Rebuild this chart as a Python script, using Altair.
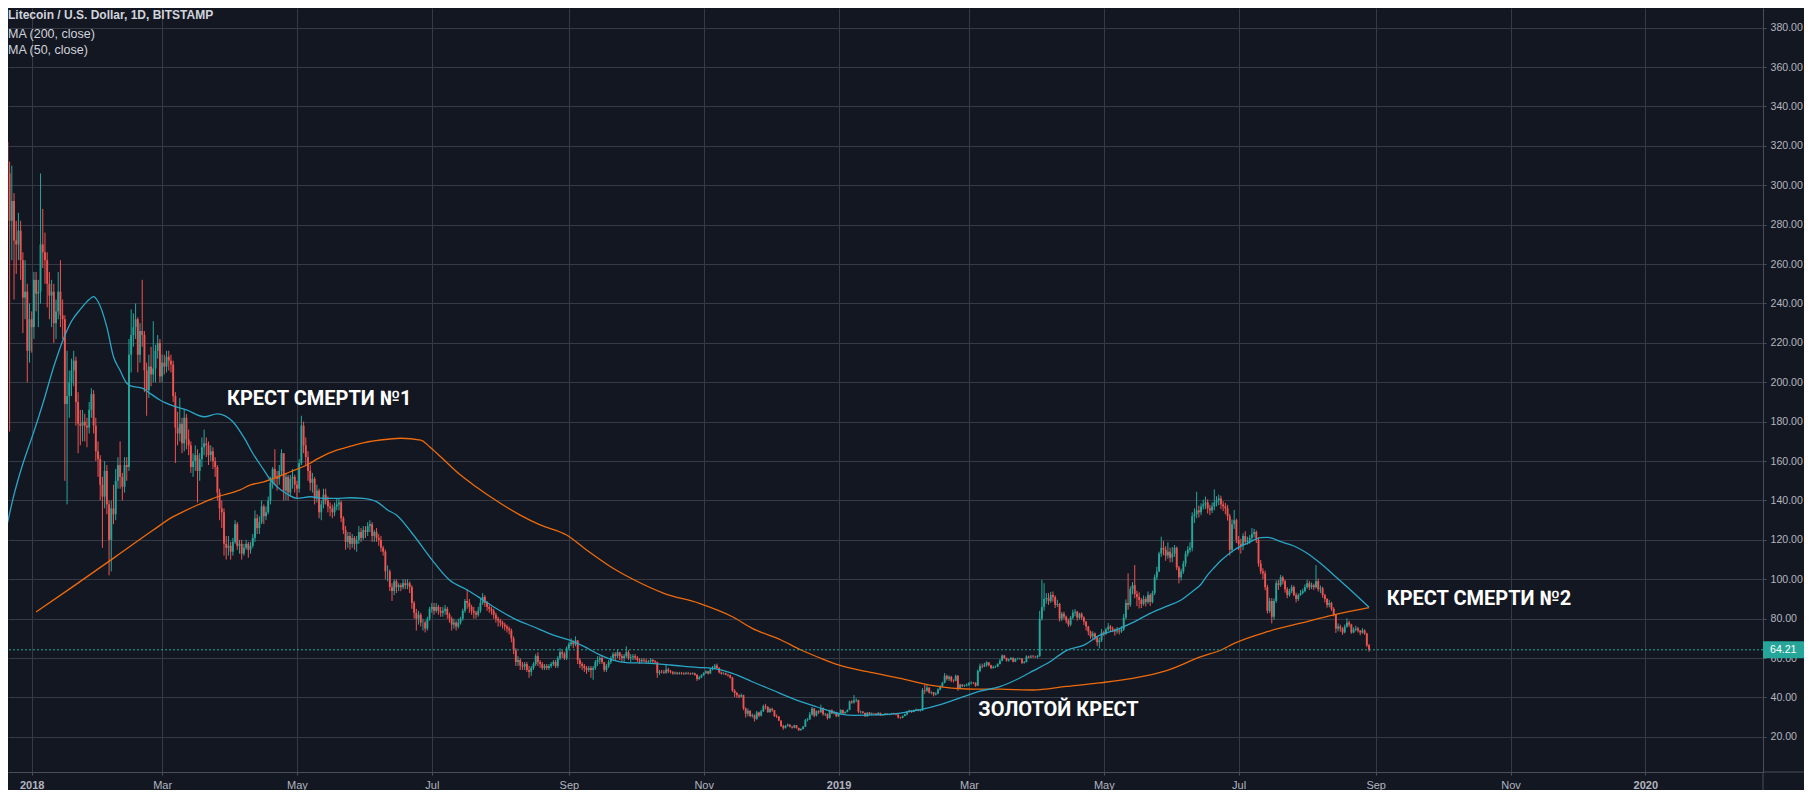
import altair as alt
import pandas as pd

# ---------------- style ----------------
UP = "#26a69a"
DOWN = "#ef5350"
MA50_COLOR = "#2aa6c6"
MA200_COLOR = "#ee6a0c"
BG = "#131722"
GRID = "#363a45"
AXIS_LINE = "#4a4e5a"
LABEL = "#b2b5be"
TEXT = "#d1d4dc"
UI_FONT = "Liberation Sans, Arial, sans-serif"
ANN_FONT = "Roboto, Liberation Sans, sans-serif"
W, H = 1755, 764

# ---------------- daily candles (LTC/USD, Bitstamp, 1D) ----------------
# each day opens at the previous day's close
first_open = 318

dec17_close = [355, 345, 322, 306, 282, 292, 272, 270, 277, 262, 243, 246, 216, 232]
dec17_high = [366, 375, 352, 330, 312, 310, 296, 282, 286, 282, 266, 262, 250, 240]
dec17_low = [310, 330, 300, 290, 175, 262, 242, 255, 262, 252, 225, 232, 200, 210]

jan18_close = [228, 252, 245, 246, 270, 266, 262, 250, 244, 246, 230, 236, 246, 234, 232, 189, 193, 200, 206, 211, 190, 179, 178, 180, 178, 177, 186, 194, 178, 165, 161]
jan18_high = [236, 256, 256, 252, 306, 288, 276, 266, 256, 252, 250, 242, 256, 262, 242, 234, 216, 206, 212, 216, 213, 195, 186, 186, 184, 182, 190, 197, 196, 182, 170]
jan18_low = [215, 222, 236, 228, 240, 258, 250, 238, 232, 228, 220, 222, 232, 228, 222, 150, 138, 182, 193, 198, 178, 164, 168, 170, 170, 167, 174, 182, 174, 160, 152]

feb18_close = [148, 142, 155, 138, 120, 136, 133, 150, 158, 152, 147, 158, 157, 214, 224, 228, 232, 214, 226, 224, 206, 196, 208, 204, 207, 216, 220, 203]
feb18_high = [163, 152, 160, 158, 140, 140, 148, 156, 162, 170, 154, 162, 162, 222, 237, 235, 240, 233, 230, 252, 226, 210, 214, 218, 231, 219, 224, 222]
feb18_low = [140, 116, 136, 133, 102, 104, 128, 130, 146, 146, 140, 144, 150, 155, 205, 218, 222, 205, 210, 218, 195, 183, 192, 198, 200, 200, 212, 200]

mar18_close = [210, 208, 213, 211, 209, 193, 177, 174, 179, 169, 182, 171, 168, 157, 160, 163, 155, 161, 167, 169, 168, 163, 165, 160, 157, 144, 136, 134, 118, 116, 117]
mar18_high = [214, 214, 216, 216, 214, 211, 195, 185, 192, 182, 186, 184, 176, 170, 164, 168, 166, 164, 172, 176, 172, 170, 168, 167, 162, 158, 146, 140, 136, 122, 122]
mar18_low = [200, 204, 205, 206, 205, 190, 159, 168, 170, 164, 165, 166, 163, 154, 152, 155, 139, 150, 157, 163, 162, 158, 160, 156, 152, 140, 130, 126, 112, 110, 112]

apr18_close = [114, 119, 128, 117, 118, 113, 116, 118, 115, 117, 121, 131, 126, 129, 137, 132, 134, 140, 149, 156, 152, 151, 155, 164, 145, 152, 144, 151, 152, 148]
apr18_high = [119, 121, 130, 129, 120, 120, 118, 120, 119, 119, 123, 135, 133, 132, 140, 138, 137, 142, 152, 157, 166, 155, 158, 166, 164, 154, 153, 153, 156, 153]
apr18_low = [110, 112, 118, 115, 113, 110, 112, 115, 111, 113, 116, 119, 123, 123, 128, 128, 130, 133, 138, 146, 148, 145, 148, 153, 140, 140, 140, 142, 146, 144]

may18_close = [146, 159, 178, 168, 162, 155, 149, 151, 141, 145, 134, 138, 143, 140, 137, 136, 134, 137, 138, 139, 131, 125, 119, 122, 118, 121, 118, 120, 124, 121, 125]
may18_high = [150, 161, 183, 180, 172, 165, 158, 154, 152, 148, 146, 140, 146, 146, 142, 139, 138, 139, 141, 141, 140, 132, 127, 124, 124, 123, 122, 122, 127, 126, 127]
may18_low = [141, 144, 158, 164, 158, 150, 145, 144, 138, 139, 131, 130, 136, 138, 134, 132, 131, 132, 135, 135, 129, 123, 115, 116, 115, 116, 115, 114, 118, 119, 120]

jun18_close = [124, 127, 128, 122, 124, 121, 120, 116, 114, 104, 104, 96, 94, 99, 96, 97, 96, 98, 97, 98, 96, 88, 83, 80, 82, 78, 78, 75, 80, 85]
jun18_high = [127, 129, 130, 129, 125, 126, 123, 122, 117, 115, 107, 105, 98, 100, 100, 98, 98, 100, 100, 100, 99, 97, 89, 85, 84, 83, 80, 79, 81, 86]
jun18_low = [121, 122, 124, 119, 119, 119, 117, 114, 112, 100, 99, 94, 89, 92, 93, 94, 94, 95, 95, 95, 93, 85, 80, 74, 77, 76, 74, 73, 74, 79]

jul18_close = [86, 84, 86, 84, 83, 84, 85, 82, 80, 77, 78, 76, 78, 80, 84, 89, 88, 86, 84, 83, 82, 84, 88, 91, 88, 86, 85, 84, 82, 80, 79]
jul18_high = [88, 88, 88, 87, 86, 86, 87, 86, 83, 81, 80, 79, 80, 81, 85, 90, 95, 90, 87, 86, 84, 86, 90, 93, 92, 89, 87, 86, 85, 83, 81]
jul18_low = [83, 82, 83, 82, 81, 81, 82, 80, 78, 74, 75, 74, 75, 77, 79, 83, 85, 83, 82, 80, 80, 81, 83, 87, 86, 84, 83, 82, 80, 78, 76]

aug18_close = [78, 77, 76, 75, 74, 70, 64, 58, 59, 56.3, 55.7, 57, 54, 53, 55, 57, 61, 58, 57, 55, 56, 55, 56, 57, 58, 56, 60, 63, 62, 60, 65]
aug18_high = [80, 79, 78, 77, 76, 75, 71, 65, 61, 60, 58, 58, 58, 56, 56, 58, 62, 63, 59, 58, 57, 57, 57, 58, 59, 59, 61, 65, 64, 63, 66]
aug18_low = [76, 75, 74, 73, 72, 68, 62, 56, 56, 54, 54, 54, 53, 50, 51, 54, 56, 56, 55, 54, 54, 54, 54, 55, 56, 55, 55, 59, 60, 59, 59]

sep18_close = [67, 68, 67, 69, 59, 57, 56, 55, 54, 55, 54, 55, 58, 59, 60, 58, 54, 56, 58, 60, 62, 61, 63, 61, 60, 61, 63, 60, 60.4, 61]
sep18_high = [68, 70, 69, 71, 69, 60, 58, 57, 56, 56, 56, 56, 59, 61, 61, 61, 58, 57, 59, 61, 63, 63, 64, 63, 62, 62, 66, 64, 62, 62]
sep18_low = [64, 66, 65, 66, 57, 55, 54, 53, 52, 53, 50, 49, 54, 56, 57, 57, 53, 53, 55, 57, 59, 59, 60, 59, 58, 58, 60, 59, 58, 59]

oct18_close = [60.2, 59.1, 58.4, 59.0, 58.6, 58.1, 58.3, 59.1, 58.4, 57.9, 52.4, 53.1, 53.0, 52.6, 54.2, 53.3, 52.9, 52.2, 52.6, 52.1, 52.5, 52.3, 52.0, 52.4, 52.2, 51.9, 52.3, 51.5, 49.4, 50.2, 51.3]
oct18_high = [62.0, 61.0, 60.0, 60.0, 60.0, 59.6, 59.0, 60.0, 59.6, 59.0, 58.2, 54.0, 54.0, 54.0, 57.0, 55.0, 54.0, 53.4, 53.2, 53.0, 53.0, 53.0, 52.8, 53.0, 53.0, 52.6, 52.8, 52.6, 51.8, 51.0, 51.8]
oct18_low = [59.0, 58.0, 57.0, 57.6, 58.0, 57.2, 57.4, 57.6, 57.6, 57.2, 50.0, 51.4, 52.2, 52.0, 52.0, 52.4, 52.2, 51.6, 51.6, 51.6, 51.6, 51.6, 51.4, 51.6, 51.6, 51.4, 51.6, 51.0, 48.4, 49.0, 49.8]

nov18_close = [52.4, 53.3, 52.2, 54.3, 55.1, 56.2, 55.0, 52.8, 52.1, 52.3, 51.6, 51.2, 50.1, 43.5, 42.3, 41.1, 40.4, 41.2, 34.5, 31.8, 33.2, 30.6, 31.0, 29.2, 32.4, 30.8, 33.0, 35.6, 35.2, 32.6]
nov18_high = [52.8, 53.8, 53.5, 54.8, 56.0, 57.0, 57.2, 55.4, 53.2, 52.8, 52.6, 52.0, 51.6, 50.4, 44.2, 42.8, 41.6, 42.0, 41.4, 35.0, 34.4, 33.6, 31.8, 31.4, 33.2, 32.8, 33.8, 36.4, 36.8, 35.6]
nov18_low = [51.0, 52.0, 51.6, 51.9, 53.8, 54.6, 54.6, 52.2, 51.6, 51.6, 51.2, 50.6, 49.6, 42.8, 40.2, 39.8, 39.6, 40.0, 33.6, 29.8, 30.4, 30.0, 29.8, 27.8, 28.6, 30.0, 30.4, 32.6, 34.0, 32.2]

dec18_close = [34.2, 33.5, 30.5, 30.3, 28.3, 25.5, 24.6, 25.6, 26.2, 25.2, 24.7, 25.9, 24.6, 23.4, 24.0, 25.2, 28.6, 28.9, 31.4, 34.4, 30.8, 33.0, 32.5, 34.5, 31.5, 31.7, 29.5, 33.5, 31.9, 32.6, 30.5]
dec18_high = [34.8, 34.8, 33.6, 31.4, 30.6, 28.4, 26.2, 26.0, 26.8, 26.4, 25.4, 26.2, 26.0, 24.6, 24.4, 25.6, 29.2, 29.6, 32.6, 35.2, 34.6, 33.4, 33.6, 36.4, 35.0, 32.2, 31.8, 33.8, 34.0, 33.2, 32.8]
dec18_low = [32.2, 32.8, 30.2, 29.6, 28.0, 25.0, 23.6, 24.2, 25.2, 24.8, 24.2, 24.4, 24.2, 23.0, 23.2, 23.8, 25.0, 27.8, 28.6, 30.8, 30.0, 30.4, 31.6, 32.2, 30.8, 30.6, 28.8, 29.4, 31.6, 31.4, 30.0]

jan19_close = [31.9, 33.7, 32.0, 32.7, 33.7, 38.0, 37.5, 38.5, 38.8, 32.8, 32.9, 32.2, 30.5, 32.3, 31.4, 32.0, 31.9, 31.1, 32.2, 30.9, 31.3, 31.8, 31.3, 31.6, 31.9, 31.6, 31.4, 29.9, 29.7, 30.6, 31.5]
jan19_high = [32.2, 34.0, 33.8, 32.9, 34.0, 38.4, 38.6, 41.2, 39.6, 38.8, 33.4, 33.0, 32.3, 32.5, 32.6, 32.4, 32.2, 32.0, 32.6, 32.3, 31.6, 32.1, 32.0, 31.9, 32.2, 32.3, 31.8, 31.4, 30.2, 30.9, 31.8]
jan19_low = [30.2, 31.6, 31.6, 31.8, 32.4, 33.5, 36.8, 36.9, 37.6, 32.0, 31.8, 31.9, 30.2, 30.2, 31.1, 31.2, 31.4, 30.9, 30.9, 30.6, 30.8, 30.9, 31.0, 31.0, 31.4, 31.3, 31.0, 29.3, 29.2, 29.5, 30.4]

feb19_close = [32.8, 33.4, 32.6, 33.5, 33.9, 33.2, 33.4, 43.8, 43.5, 45.0, 42.5, 42.7, 41.5, 42.0, 44.0, 45.5, 47.5, 51.0, 49.5, 50.5, 48.6, 48.5, 51.0, 44.5, 46.5, 45.8, 46.1, 46.5]
feb19_high = [33.2, 33.8, 33.6, 33.8, 34.4, 34.0, 33.9, 44.8, 46.5, 46.2, 45.2, 43.2, 42.8, 42.6, 44.6, 46.2, 48.0, 52.4, 51.6, 51.2, 51.0, 49.2, 51.6, 51.4, 47.0, 46.8, 46.6, 47.2]
feb19_low = [30.9, 32.4, 32.2, 32.5, 33.1, 33.0, 32.8, 33.2, 41.8, 42.8, 42.0, 41.6, 40.6, 41.0, 41.6, 43.6, 45.2, 47.2, 48.6, 48.4, 47.8, 47.6, 48.2, 43.4, 44.2, 45.2, 45.4, 45.6]

mar19_close = [47.2, 47.5, 47.4, 46.0, 53.5, 56.0, 55.8, 56.5, 57.8, 56.4, 55.0, 55.5, 55.7, 57.0, 58.6, 61.3, 60.1, 58.7, 59.3, 60.0, 58.2, 59.5, 59.6, 59.8, 57.6, 58.0, 60.8, 60.3, 60.8, 60.6, 60.5]
mar19_high = [47.8, 48.2, 47.9, 47.8, 54.2, 57.2, 57.2, 57.6, 58.4, 58.0, 56.6, 56.2, 56.2, 57.4, 59.6, 61.8, 61.6, 60.2, 59.8, 60.6, 60.4, 60.0, 60.2, 60.2, 59.9, 58.6, 61.4, 61.2, 61.6, 61.6, 61.2]
mar19_low = [45.8, 46.6, 46.8, 45.4, 45.8, 52.8, 54.8, 55.4, 55.6, 55.8, 54.4, 54.6, 55.0, 55.4, 56.8, 58.4, 59.6, 58.2, 58.2, 59.0, 57.8, 58.0, 59.2, 59.2, 57.0, 57.2, 57.8, 59.8, 60.0, 60.2, 60.0]

apr19_close = [61.0, 80.0, 86.0, 90.0, 90.5, 89.0, 92.0, 91.0, 87.0, 87.5, 80.0, 82.5, 81.0, 79.0, 77.0, 80.5, 83.0, 83.5, 80.5, 82.5, 80.6, 78.5, 76.0, 73.5, 71.0, 72.5, 70.5, 68.0, 69.0, 73.0]
apr19_high = [61.6, 84.0, 99.6, 98.0, 93.0, 93.0, 93.6, 93.8, 91.8, 89.6, 88.0, 83.4, 83.6, 81.6, 80.0, 81.4, 84.6, 84.8, 84.0, 83.0, 83.2, 81.2, 78.8, 76.4, 74.0, 73.6, 73.0, 71.0, 70.4, 74.8]
apr19_low = [59.8, 60.6, 79.0, 84.0, 87.6, 87.0, 88.0, 88.6, 85.4, 86.0, 78.6, 78.8, 79.6, 77.6, 75.8, 76.2, 79.6, 81.2, 79.0, 79.6, 79.4, 76.8, 74.0, 71.6, 69.8, 69.8, 69.0, 66.2, 64.9, 68.2]

may19_close = [72.5, 74.5, 76.0, 75.0, 74.5, 73.5, 74.0, 73.5, 74.5, 80.5, 88.0, 87.0, 95.0, 97.0, 92.5, 91.0, 89.5, 87.5, 90.0, 88.5, 92.0, 88.5, 93.0, 101.0, 104.0, 113.0, 116.0, 115.0, 112.0, 114.0, 111.0]
may19_high = [73.8, 75.4, 77.8, 76.8, 76.0, 75.0, 75.8, 75.4, 76.2, 82.4, 89.8, 103.0, 96.4, 98.6, 107.2, 94.2, 93.4, 90.6, 91.8, 91.2, 93.8, 92.8, 94.2, 102.4, 106.4, 114.0, 121.6, 119.4, 116.8, 118.8, 116.0]
may19_low = [71.2, 71.8, 73.8, 73.6, 73.2, 71.4, 72.4, 72.0, 72.8, 73.8, 79.6, 84.6, 86.0, 92.4, 90.4, 86.4, 85.2, 85.4, 86.6, 86.2, 87.6, 86.4, 87.8, 92.0, 99.6, 103.6, 111.4, 112.2, 109.4, 110.4, 108.6]

jun19_close = [113.0, 116.0, 106.0, 101.0, 104.0, 108.0, 113.0, 115.0, 116.0, 132.0, 133.0, 135.0, 134.0, 137.0, 138.0, 139.0, 136.0, 135.0, 137.0, 139.0, 140.0, 141.0, 138.0, 137.0, 136.0, 132.0, 115.0, 128.0, 130.0, 120.0]
jun19_high = [116.4, 117.4, 116.6, 106.8, 105.4, 109.4, 114.4, 116.8, 118.8, 134.0, 136.0, 144.4, 137.4, 138.6, 140.4, 142.0, 140.6, 137.8, 139.0, 145.6, 142.2, 143.0, 142.4, 139.6, 138.8, 137.8, 133.2, 130.4, 135.2, 130.8]
jun19_low = [108.6, 111.4, 104.6, 97.9, 99.4, 102.8, 106.4, 111.6, 113.6, 114.2, 128.6, 131.0, 131.4, 132.6, 135.4, 135.6, 133.4, 132.6, 133.6, 135.0, 137.0, 137.6, 135.6, 134.6, 133.0, 129.8, 112.0, 113.6, 125.6, 118.4]

jul19_close = [118, 117, 122, 119, 119.5, 121, 123, 124, 120, 108, 104, 103, 96, 84, 89, 81, 89, 98, 97, 101, 99, 95, 92, 94, 96, 92, 90, 92, 93, 94, 96]
jul19_high = [122.0, 120.6, 123.4, 124.4, 121.6, 122.4, 126.0, 125.6, 124.8, 121.4, 109.8, 105.6, 104.4, 97.2, 90.6, 90.4, 90.2, 99.4, 99.6, 102.2, 101.8, 99.8, 96.0, 95.2, 97.2, 96.8, 93.2, 92.8, 94.6, 95.2, 97.4]
jul19_low = [114.8, 113.0, 114.8, 117.4, 117.6, 118.0, 119.6, 121.2, 118.4, 106.4, 102.6, 100.0, 94.4, 82.6, 83.0, 77.6, 79.4, 88.0, 94.6, 96.2, 97.4, 93.2, 90.4, 91.2, 93.0, 91.4, 88.2, 89.0, 91.6, 92.4, 93.4]

aug19_close = [98, 96, 97, 96, 99, 95, 95.4, 92, 90, 87, 88, 85, 82, 75, 76, 75, 73, 76, 78, 77, 73, 74.5, 75, 74, 73, 74, 72.5, 66.5, 64.21]
aug19_high = [99.8, 99.2, 98.4, 97.8, 107.2, 100.4, 96.8, 96.2, 92.6, 90.4, 89.6, 88.6, 85.8, 82.4, 77.6, 77.0, 75.6, 77.0, 80.2, 79.0, 77.4, 75.6, 76.4, 75.8, 74.2, 75.2, 74.6, 72.8, 67.2]
aug19_low = [95.2, 94.6, 95.0, 94.6, 95.4, 93.8, 93.0, 90.6, 88.2, 85.6, 85.8, 84.0, 81.2, 72.8, 73.6, 73.4, 71.8, 72.6, 75.4, 75.8, 72.4, 72.6, 73.6, 73.0, 71.6, 72.4, 71.8, 65.6, 63.2]

month_starts = ["2017-12-18", "2018-01-01", "2018-02-01", "2018-03-01", "2018-04-01", "2018-05-01",
                "2018-06-01", "2018-07-01", "2018-08-01", "2018-09-01", "2018-10-01", "2018-11-01",
                "2018-12-01", "2019-01-01", "2019-02-01", "2019-03-01", "2019-04-01", "2019-05-01",
                "2019-06-01", "2019-07-01", "2019-08-01"]
month_close = [dec17_close, jan18_close, feb18_close, mar18_close, apr18_close, may18_close, jun18_close,
               jul18_close, aug18_close, sep18_close, oct18_close, nov18_close, dec18_close, jan19_close,
               feb19_close, mar19_close, apr19_close, may19_close, jun19_close, jul19_close, aug19_close]
month_high = [dec17_high, jan18_high, feb18_high, mar18_high, apr18_high, may18_high, jun18_high,
              jul18_high, aug18_high, sep18_high, oct18_high, nov18_high, dec18_high, jan19_high,
              feb19_high, mar19_high, apr19_high, may19_high, jun19_high, jul19_high, aug19_high]
month_low = [dec17_low, jan18_low, feb18_low, mar18_low, apr18_low, may18_low, jun18_low,
             jul18_low, aug18_low, sep18_low, oct18_low, nov18_low, dec18_low, jan19_low,
             feb19_low, mar19_low, apr19_low, may19_low, jun19_low, jul19_low, aug19_low]

# ---------------- moving averages ----------------
ma50_dates = ["2017-12-18", "2017-12-24", "2017-12-27", "2018-01-02", "2018-01-06", "2018-01-11", "2018-01-15",
              "2018-01-19", "2018-01-23", "2018-01-27", "2018-01-29", "2018-01-31", "2018-02-04", "2018-02-07",
              "2018-02-10", "2018-02-13", "2018-02-15", "2018-02-20", "2018-02-24", "2018-02-28", "2018-03-06",
              "2018-03-12", "2018-03-20", "2018-03-26", "2018-04-02", "2018-04-07", "2018-04-11", "2018-04-16",
              "2018-04-19", "2018-04-22", "2018-04-26", "2018-05-01", "2018-05-07", "2018-05-13", "2018-05-19",
              "2018-05-25", "2018-05-31", "2018-06-06", "2018-06-11", "2018-06-15", "2018-06-22", "2018-07-01",
              "2018-07-09", "2018-07-17", "2018-07-23", "2018-07-30", "2018-08-07", "2018-08-16", "2018-08-25",
              "2018-09-01", "2018-09-08", "2018-09-15", "2018-09-21", "2018-09-27", "2018-10-06", "2018-10-17",
              "2018-10-29", "2018-11-05", "2018-11-14", "2018-11-23", "2018-12-02", "2018-12-13", "2018-12-22",
              "2019-01-02", "2019-01-08", "2019-01-21", "2019-01-29", "2019-02-07", "2019-02-16", "2019-02-25",
              "2019-03-06", "2019-03-15", "2019-03-24", "2019-03-30", "2019-04-07", "2019-04-14", "2019-04-22",
              "2019-04-29", "2019-05-07", "2019-05-14", "2019-05-22", "2019-05-29", "2019-06-05", "2019-06-10",
              "2019-06-14", "2019-06-17", "2019-06-20", "2019-06-23", "2019-06-29", "2019-07-05", "2019-07-11",
              "2019-07-14", "2019-07-20", "2019-07-26", "2019-08-01", "2019-08-07", "2019-08-13", "2019-08-19",
              "2019-08-25", "2019-08-29"]
ma50_vals = [112, 143, 155, 175, 189, 208, 221, 231, 237, 242, 243.5, 241, 228, 213, 206, 199.5, 198, 197, 194, 191,
             188, 186, 182.5, 184, 180, 172, 164, 155.5, 150.4, 147, 143.7, 141.1, 141.9, 141.1, 141.1, 141.4, 141.1,
             139.4, 135.2, 132.6, 123.5, 110, 99.6, 94.6, 90.4, 85.3, 80.2, 75.9, 71.7, 69.2, 65.8, 61.6, 59, 57.7,
             57.4, 56.5, 55.3, 54.8, 52.3, 48, 43.8, 38.7, 35.3, 31.6, 30.9, 31.3, 32.1, 33.8, 36.4, 39.8, 43.2, 45.5,
             49.9, 53.5, 58.4, 63.8, 66.6, 71.5, 74.5, 78, 82.7, 86.1, 89.5, 93.7, 97.5, 102.2, 106, 109.5, 114.9,
             118.3, 121.1, 121.3, 119.1, 116.9, 113.2, 108.1, 102.2, 96.2, 90, 85.8]

ma200_dates = ["2018-01-03", "2018-01-18", "2018-02-08", "2018-02-25", "2018-03-06", "2018-03-09", "2018-03-17",
               "2018-03-23", "2018-03-26", "2018-04-05", "2018-04-10", "2018-04-16", "2018-04-28", "2018-05-07",
               "2018-05-10", "2018-05-19", "2018-05-22", "2018-05-31", "2018-06-11", "2018-06-17", "2018-06-26",
               "2018-06-30", "2018-07-05", "2018-07-14", "2018-07-21", "2018-08-01", "2018-08-10", "2018-08-19",
               "2018-08-31", "2018-09-09", "2018-09-21", "2018-09-30", "2018-10-14", "2018-10-30", "2018-11-14",
               "2018-11-23", "2018-12-06", "2018-12-15", "2018-12-24", "2019-01-01", "2019-01-14", "2019-01-29",
               "2019-02-13", "2019-02-28", "2019-03-15", "2019-03-30", "2019-04-14", "2019-04-29", "2019-05-14",
               "2019-05-29", "2019-06-14", "2019-06-23", "2019-06-29", "2019-07-14", "2019-07-29", "2019-08-13",
               "2019-08-29"]
ma200_vals = [83.4, 95, 111.5, 125, 131.8, 133.5, 137.7, 140.6, 141.9, 145.3, 147.9, 149.5, 154.6, 158.9, 161,
              165.6, 166.5, 169.3, 171.1, 171.6, 170.7, 167.3, 162.2, 152.9, 147, 138.6, 132.6, 127.6, 122.5, 114.9,
              105.6, 100, 92.9, 87.8, 81, 75.1, 69.2, 64.1, 59.9, 56.5, 53.1, 49.7, 46, 44.3, 44.2, 43.8, 45.6, 47.4,
              49.7, 53.5, 60.7, 64.1, 67.5, 73.4, 77.7, 81.9, 85.6]

# ---------------- annotations ----------------
ann_labels = ["КРЕСТ СМЕРТИ №1", "ЗОЛОТОЙ КРЕСТ", "КРЕСТ СМЕРТИ №2"]
ann_dates = ["2018-03-30 08:00", "2019-03-05 06:00", "2019-09-06 00:00"]
ann_prices = [191.5, 33.6, 89.8]

header_title = "Litecoin / U.S. Dollar, 1D, BITSTAMP"
header_ma200 = "MA (200, close)"
header_ma50 = "MA (50, close)"

y_ticks = list(range(20, 400, 20))
x_ticks = [(2018, 1), (2018, 3), (2018, 5), (2018, 7), (2018, 9), (2018, 11), (2019, 1), (2019, 3),
           (2019, 5), (2019, 7), (2019, 9), (2019, 11), (2020, 1)]

# ---------------- build tables ----------------
frames = []
for start, cs, hs, ls in zip(month_starts, month_close, month_high, month_low):
    assert len(cs) == len(hs) == len(ls), start
    frames.append(pd.DataFrame({"date": pd.date_range(start, periods=len(cs), freq="D"),
                                "close": cs, "high": hs, "low": ls}))
candles = pd.concat(frames, ignore_index=True)
candles["open"] = [first_open] + candles["close"].tolist()[:-1]
candles["dir"] = ["up" if c >= o else "down" for o, c in zip(candles["open"], candles["close"])]

assert len(ma50_dates) == len(ma50_vals)
assert len(ma200_dates) == len(ma200_vals)
ma50 = pd.DataFrame({"date": pd.to_datetime(ma50_dates), "price": ma50_vals})
ma200 = pd.DataFrame({"date": pd.to_datetime(ma200_dates), "price": ma200_vals})
ann = pd.DataFrame({"date": pd.to_datetime(ann_dates), "price": ann_prices, "label": ann_labels})
last = pd.DataFrame({"price": [candles["close"].iloc[-1]]})

# ---------------- scales & axes ----------------
x_scale = alt.Scale(domain=[alt.DateTime(year=2017, month=12, date=21, hours=6, minutes=40),
                            alt.DateTime(year=2020, month=2, date=23, hours=5, minutes=17)])
y_scale = alt.Scale(domain=[2.18, 390.0])

x_axis = alt.Axis(
    values=[alt.DateTime(year=y, month=m, date=1) for y, m in x_ticks],
    labelExpr="month(datum.value) == 0 ? timeFormat(datum.value, '%Y') : timeFormat(datum.value, '%b')",
    title=None, grid=True, gridColor=GRID, gridWidth=1,
    domainColor=AXIS_LINE, tickColor=AXIS_LINE, tickSize=3, labelPadding=10,
    labelBaseline="middle",
    labelColor=LABEL, labelFont=UI_FONT, labelFontSize=11,
    labelFontWeight={"condition": {"test": "month(datum.value) === 0", "value": "bold"}, "value": "normal"},
    labelFlush=False, labelOverlap=False,
)
y_axis = alt.Axis(
    orient="right", values=y_ticks, format=".2f", title=None,
    grid=True, gridColor=GRID, gridWidth=1,
    domainColor=AXIS_LINE, tickColor=AXIS_LINE, tickSize=3, labelPadding=4,
    labelColor=LABEL, labelFont=UI_FONT, labelFontSize=10.6, labelFlush=False, labelOverlap=False,
)


def X(field="date:T"):
    return alt.X(field, scale=x_scale, axis=x_axis)


def Y(field):
    return alt.Y(field, scale=y_scale, axis=y_axis)


color = alt.Color("dir:N", scale=alt.Scale(domain=["up", "down"], range=[UP, DOWN]), legend=None)

wicks = alt.Chart(candles).mark_rule(strokeWidth=1, clip=True).encode(
    x=X(), y=Y("low:Q"), y2="high:Q", color=color)
bodies = alt.Chart(candles).mark_rule(strokeWidth=1.9, clip=True).encode(
    x=X(), y=Y("open:Q"), y2="close:Q", color=color)

line200 = alt.Chart(ma200).mark_line(color=MA200_COLOR, strokeWidth=1.3, clip=True, interpolate="monotone").encode(
    x=X(), y=Y("price:Q"))
line50 = alt.Chart(ma50).mark_line(color=MA50_COLOR, strokeWidth=1.3, clip=True, interpolate="monotone").encode(
    x=X(), y=Y("price:Q"))

price_line = alt.Chart(last).mark_rule(color=UP, strokeDash=[2, 2], strokeWidth=1).encode(y=Y("price:Q"))
price_box = alt.Chart(last).mark_rule(color=UP, strokeWidth=17).encode(
    y=Y("price:Q"), x=alt.value(W), x2=alt.value(W + 41))
price_txt = alt.Chart(last).mark_text(align="left", baseline="middle", color="#ffffff",
                                      font=UI_FONT, fontSize=10.6).encode(
    y=Y("price:Q"), x=alt.value(W + 7), text=alt.Text("price:Q", format=".2f"))

annotations = alt.Chart(ann).mark_text(align="left", baseline="middle", color="#ffffff",
                                       font=ANN_FONT, fontSize=20, fontWeight="bold").encode(
    x=X(), y=Y("price:Q"), text="label:N")

hdr1 = alt.Chart(pd.DataFrame({"t": [header_title]})).mark_text(
    align="left", baseline="middle", font=UI_FONT, fontSize=12, fontWeight="bold", color=TEXT).encode(
    x=alt.value(0), y=alt.value(7), text="t:N")
hdr2 = alt.Chart(pd.DataFrame({"t": [header_ma200]})).mark_text(
    align="left", baseline="middle", font=UI_FONT, fontSize=12.5, color=TEXT).encode(
    x=alt.value(0), y=alt.value(25.5), text="t:N")
hdr3 = alt.Chart(pd.DataFrame({"t": [header_ma50]})).mark_text(
    align="left", baseline="middle", font=UI_FONT, fontSize=12.5, color=TEXT).encode(
    x=alt.value(0), y=alt.value(42), text="t:N")

frame_df = pd.DataFrame({"k": [0]})
edge_bottom = alt.Chart(frame_df).mark_rule(color=AXIS_LINE, strokeWidth=1).encode(
    x=alt.value(W), x2=alt.value(W + 41), y=alt.value(H))
edge_right = alt.Chart(frame_df).mark_rule(color=AXIS_LINE, strokeWidth=1).encode(
    x=alt.value(W), y=alt.value(H), y2=alt.value(H + 18))

chart = alt.layer(
    wicks, bodies, line200, line50, price_line, annotations,
    hdr1, hdr2, hdr3, edge_bottom, edge_right, price_box, price_txt,
).properties(
    width=W, height=H,
    autosize=alt.AutoSizeParams(type="none"),
    padding={"left": 0, "top": 0, "right": 41, "bottom": 18},
).configure(background=BG).configure_view(stroke=None)

chart.save("out.html", embed_options={"renderer": "svg", "actions": False})
